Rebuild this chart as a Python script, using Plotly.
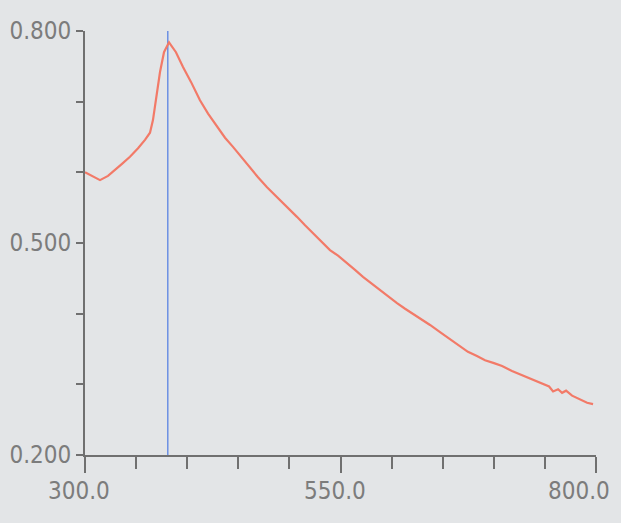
import plotly.graph_objects as go

# Spectrum
wavelength = [300.0, 306.8, 314.7, 322.5, 329.4, 336.2, 344.0, 351.9, 358.7, 363.6,
              366.5, 369.5, 373.4, 377.3, 382.2, 389.0, 395.9, 403.7, 412.5, 420.4,
              429.2, 437.0, 444.8, 452.7, 461.4, 469.3, 478.1, 485.9, 493.7, 500.6,
              507.4, 515.3, 523.1, 531.9, 539.7, 547.6, 556.4, 564.2, 572.0, 580.8,
              588.7, 596.5, 605.3, 613.2, 621.0, 629.8, 637.6, 647.4, 657.1, 666.9,
              674.7, 683.5, 691.4, 700.2, 708.1, 717.8, 727.6, 736.4, 745.3, 754.1,
              758.0, 762.9, 766.8, 770.7, 776.6, 784.4, 791.3, 797.1]
absorbance = [0.600, 0.595, 0.589, 0.595, 0.603, 0.612, 0.622, 0.634, 0.646, 0.656,
              0.674, 0.702, 0.742, 0.770, 0.784, 0.770, 0.749, 0.728, 0.702, 0.683,
              0.664, 0.649, 0.636, 0.622, 0.608, 0.593, 0.579, 0.568, 0.557, 0.547,
              0.537, 0.525, 0.514, 0.501, 0.490, 0.482, 0.472, 0.462, 0.452, 0.442,
              0.434, 0.424, 0.415, 0.407, 0.400, 0.391, 0.384, 0.374, 0.364, 0.354,
              0.346, 0.340, 0.334, 0.330, 0.326, 0.319, 0.313, 0.308, 0.303, 0.297,
              0.290, 0.293, 0.288, 0.291, 0.284, 0.279, 0.274, 0.272]

marker_wl = 381.0
x_ticks = [300.0, 550.0, 800.0]
x_labels = ["300.0", "550.0", "800.0"]
y_ticks = [0.2, 0.5, 0.8]
y_labels = ["0.200", "0.500", "0.800"]

bg = "#e3e5e7"
axis_col = "#707070"
text_col = "#7c7c7c"
font_fam = "DejaVu Sans Condensed, Liberation Sans Narrow, sans-serif"

fig = go.Figure()
fig.add_trace(go.Scatter(x=[marker_wl, marker_wl], y=[0.2, 0.803], mode="lines",
                         line=dict(color="#6b8fe3", width=1.5), hoverinfo="skip"))
fig.add_trace(go.Scatter(x=wavelength, y=absorbance, mode="lines",
                         line=dict(color="#f27a68", width=2.2)))

# x tick labels as annotations so the last one stays inside the window
anchors = ["center", "center", "right"]
shifts = [-6, -6, 16]
for xv, txt, anc, sh in zip(x_ticks, x_labels, anchors, shifts):
    fig.add_annotation(x=xv, xref="x", y=0, yref="paper", text=txt, showarrow=False,
                       xanchor=anc, yanchor="top", xshift=sh, yshift=-20,
                       font=dict(family=font_fam, size=24, color=text_col))

fig.update_layout(
    width=621, height=523,
    margin=dict(l=85, r=25, t=31, b=68),
    paper_bgcolor=bg, plot_bgcolor=bg,
    showlegend=False,
    font=dict(family=font_fam, color=text_col, size=24),
)
fig.update_xaxes(
    range=[300, 800], tickvals=x_ticks, showticklabels=False, automargin=False,
    showgrid=False, zeroline=False, showline=True, linecolor=axis_col, linewidth=2,
    ticks="outside", ticklen=16, tickwidth=2, tickcolor=axis_col,
    minor=dict(dtick=50, tick0=300, ticks="outside", ticklen=12, tickwidth=2, tickcolor=axis_col),
)
fig.update_yaxes(
    range=[0.2, 0.8], tickvals=y_ticks, ticktext=y_labels, automargin=False,
    ticklabeloverflow="allow",
    showgrid=False, zeroline=False, showline=True, linecolor=axis_col, linewidth=2,
    ticks="outside", ticklen=7, tickwidth=2, tickcolor=axis_col,
    minor=dict(dtick=0.1, tick0=0.2, ticks="outside", ticklen=7, tickwidth=2, tickcolor=axis_col),
    tickfont=dict(family=font_fam, size=24, color=text_col),
)

fig.write_html("out.html")
